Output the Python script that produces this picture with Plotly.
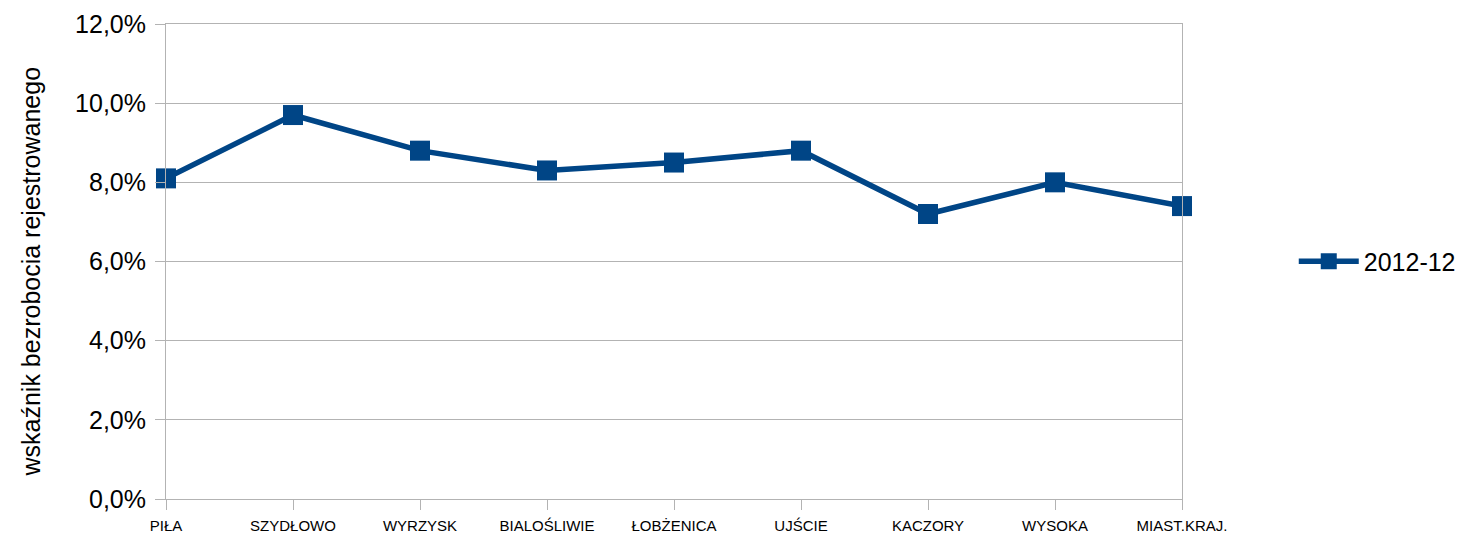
import plotly.graph_objects as go

# data
gminy = ["PIŁA", "SZYDŁOWO", "WYRZYSK", "BIALOŚLIWIE", "ŁOBŻENICA",
         "UJŚCIE", "KACZORY", "WYSOKA", "MIAST.KRAJ."]
stopa_2012_12 = [0.081, 0.097, 0.088, 0.083, 0.085, 0.088, 0.072, 0.080, 0.074]
y_ticks = [0.0, 0.02, 0.04, 0.06, 0.08, 0.10, 0.12]

blue = "#004586"
grid = "#b3b3b3"

fig = go.Figure()
fig.add_trace(go.Scatter(
    x=gminy, y=stopa_2012_12, name="2012-12",
    mode="lines+markers",
    line=dict(color=blue, width=5.5),
    marker=dict(symbol="square", size=20, color=blue),
    cliponaxis=False,
))

# page body has an 8px margin, so the figure is a bit smaller than the window
fig.update_layout(
    width=1455, height=529,
    margin=dict(l=158, r=281, t=16, b=38, autoexpand=False),
    plot_bgcolor="white", paper_bgcolor="white",
    separators=", ",
    font=dict(family="Liberation Sans, Arial, sans-serif", color="#000"),
    legend=dict(x=1.11, xanchor="left", y=0.5, yanchor="middle",
                font=dict(size=25), itemwidth=60),
    showlegend=True,
)
fig.add_annotation(
    text="wskaźnik bezrobocia rejestrowanego", textangle=-90,
    xref="paper", yref="paper", x=0, y=0.5, xanchor="center", yanchor="middle",
    xshift=-136, yshift=-10,
    showarrow=False, font=dict(size=25),
)
fig.update_xaxes(
    type="category", range=[0, len(gminy) - 1], automargin=False,
    showgrid=False, showline=True, linecolor=grid, linewidth=1, mirror=True,
    ticks="outside", ticklen=10, tickcolor=grid,
    tickfont=dict(size=15), ticklabelstandoff=3,
)
fig.update_yaxes(
    range=[0, 0.12], tickvals=y_ticks, tickformat=".1%", automargin=False,
    showgrid=True, gridcolor=grid, gridwidth=1,
    showline=True, linecolor=grid, linewidth=1, mirror=True,
    ticks="outside", ticklen=10, tickcolor=grid,
    tickfont=dict(size=25), ticklabelstandoff=4, zeroline=False,
)

fig.write_html("out.html")
